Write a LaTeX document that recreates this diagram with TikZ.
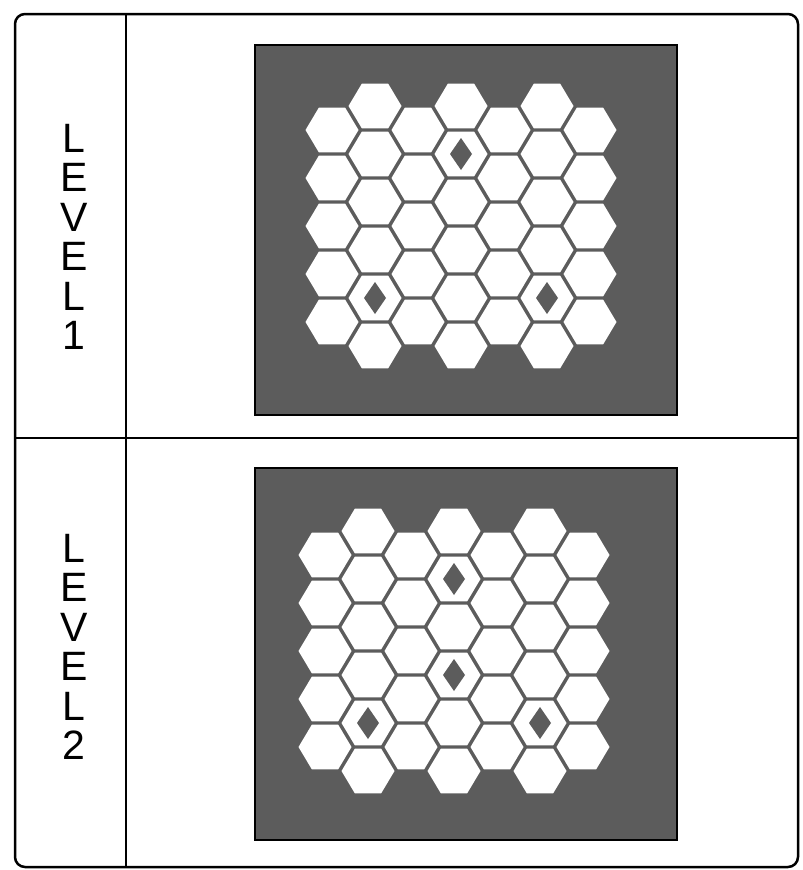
\documentclass[tikz,border=0pt]{standalone}
\usepackage{fontspec}
\setmainfont{Liberation Sans}
\usepackage{tikz}
\definecolor{boardgray}{gray}{0.36}

\begin{document}
\begin{tikzpicture}[x=1pt,y=-1pt,
  board/.style={fill=boardgray,draw=black,line width=1.5pt},
  hexcell/.style={fill=white},
  gem/.style={fill=boardgray},
  levellabel/.style={align=center,font=\fontsize{41}{39.5}\selectfont}]
  \useasboundingbox (0,0) rectangle (803,870);
  % frame and dividers
  \draw[line width=2.5pt,rounded corners=10pt] (15,14) rectangle (798,867);
  \draw[line width=1.5pt] (126,14) -- (126,867);
  \draw[line width=1.5pt] (15,438) -- (798,438);
  \node[levellabel] (lvlone) at (74,237) {L\\E\\V\\E\\L\\1};
  \node[levellabel] (lvltwo) at (74,647) {L\\E\\V\\E\\L\\2};
  % level 1 board
  \draw[board] (255,45) rectangle (677,415);
  \foreach \cx in {332,418,504,590}
    \foreach \cy in {130,178,226,274,322}
      \fill[hexcell,shift={(\cx,\cy)}] (-26.5,0) -- (-13.2,-22.3) -- (13.2,-22.3) -- (26.5,0) -- (13.2,22.3) -- (-13.2,22.3) -- cycle;
  \foreach \cx in {375,461,547}
    \foreach \cy in {106,154,202,250,298,346}
      \fill[hexcell,shift={(\cx,\cy)}] (-26.5,0) -- (-13.2,-22.3) -- (13.2,-22.3) -- (26.5,0) -- (13.2,22.3) -- (-13.2,22.3) -- cycle;
  \foreach \gx/\gy in {461/154,375/298,547/298}
    \fill[gem,shift={(\gx,\gy)}] (0,-16) -- (11,0) -- (0,16) -- (-11,0) -- cycle;
  % level 2 board
  \draw[board] (255,468) rectangle (677,840);
  \foreach \cx in {325,411,497,583}
    \foreach \cy in {555,603,651,699,747}
      \fill[hexcell,shift={(\cx,\cy)}] (-26.5,0) -- (-13.2,-22.3) -- (13.2,-22.3) -- (26.5,0) -- (13.2,22.3) -- (-13.2,22.3) -- cycle;
  \foreach \cx in {368,454,540}
    \foreach \cy in {531,579,627,675,723,771}
      \fill[hexcell,shift={(\cx,\cy)}] (-26.5,0) -- (-13.2,-22.3) -- (13.2,-22.3) -- (26.5,0) -- (13.2,22.3) -- (-13.2,22.3) -- cycle;
  \foreach \gx/\gy in {454/579,454/675,368/723,540/723}
    \fill[gem,shift={(\gx,\gy)}] (0,-16) -- (11,0) -- (0,16) -- (-11,0) -- cycle;
\end{tikzpicture}
\end{document}
